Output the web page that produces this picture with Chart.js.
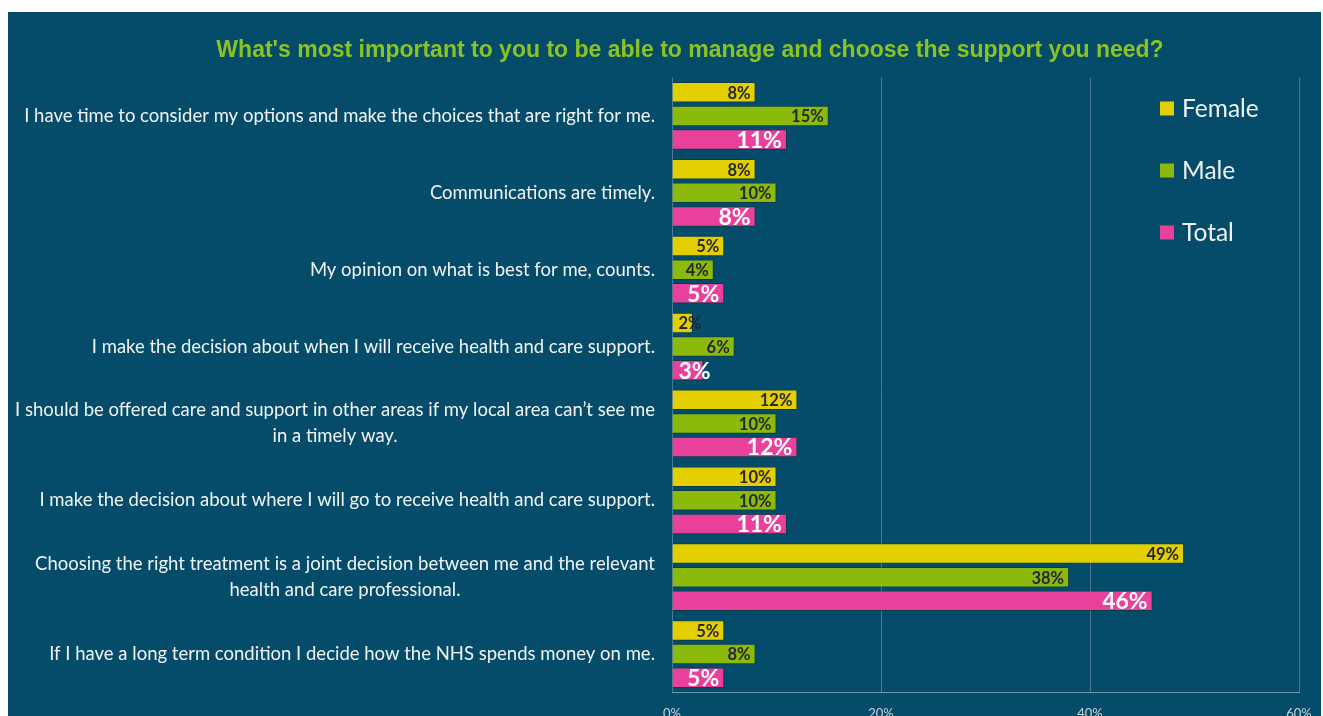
<!DOCTYPE html>
<html>
<head>
<meta charset="utf-8">
<script src="https://cdn.jsdelivr.net/npm/chart.js@4"></script>
<style>
  html, body { margin: 0; padding: 0; background: #ffffff; }
  #panel {
    position: absolute; left: 8px; top: 12px;
    width: 1313px; height: 704px;
    background: #044c69;
  }
</style>
</head>
<body>
<div id="panel"><canvas id="supportChart"></canvas></div>
<script>
const categories = [
  ["I have time to consider my options and make the choices that are right for me."],
  ["Communications are timely."],
  ["My opinion on what is best for me, counts."],
  ["I make the decision about when I will receive health and care support."],
  ["I should be offered care and support in other areas if my local area can\u2019t see me", "in a timely way."],
  ["I make the decision about where I will go to receive health and care support."],
  ["Choosing the right treatment is a joint decision between me and the relevant", "health and care professional."],
  ["If I have a long term condition I decide how the NHS spends money on me."]
];
const female = [8, 8, 5, 2, 12, 10, 49, 5];
const male = [15, 10, 4, 6, 10, 10, 38, 8];
const total = [11, 8, 5, 3, 12, 11, 46, 5];
const xTicks = [0, 20, 40, 60];

const FONT = "Lato, 'Open Sans', sans-serif";

// category labels: right-aligned block, lines centred inside it
const categoryLabels = {
  id: "categoryLabels",
  afterDraw(chart) {
    const { ctx, chartArea, scales } = chart;
    const y = scales.y;
    ctx.save();
    ctx.font = "18.5px " + FONT;
    ctx.fillStyle = "#f2f4f5";
    ctx.textAlign = "center";
    ctx.textBaseline = "middle";
    const right = chartArea.left - 17;
    const lineH = 26;
    chart.data.labels.forEach((lines, i) => {
      const cy = y.getPixelForValue(i);
      const w = Math.max(...lines.map(l => ctx.measureText(l).width));
      const cx = right - w / 2;
      lines.forEach((l, k) => {
        ctx.fillText(l, cx, cy + (k - (lines.length - 1) / 2) * lineH);
      });
    });
    ctx.restore();
  }
};

// value labels at the inner end of each bar
const valueLabels = {
  id: "valueLabels",
  afterDatasetsDraw(chart) {
    const { ctx } = chart;
    ctx.save();
    ctx.textBaseline = "middle";
    ctx.textAlign = "left";
    chart.data.datasets.forEach((ds, di) => {
      const meta = chart.getDatasetMeta(di);
      const big = di === 2;
      ctx.font = (big ? "bold 23px " : "bold 16.5px ") + FONT;
      ctx.fillStyle = big ? "#ffffff" : "#26262e";
      meta.data.forEach((bar, i) => {
        const txt = ds.data[i] + "%";
        const w = ctx.measureText(txt).width;
        const x = Math.max(bar.x - 5 - w, bar.base + 6);
        ctx.fillText(txt, x, bar.y + 1);
      });
    });
    ctx.restore();
  }
};

// legend stacked vertically in the top-right of the plot
const sideLegend = {
  id: "sideLegend",
  afterDraw(chart) {
    const { ctx, chartArea } = chart;
    ctx.save();
    ctx.font = "24.5px " + FONT;
    ctx.textBaseline = "middle";
    ctx.textAlign = "left";
    chart.data.datasets.forEach((ds, i) => {
      const x = chartArea.right - 139;
      const y = chartArea.top + 32 + i * 62;
      ctx.fillStyle = ds.backgroundColor;
      ctx.fillRect(x, y - 8, 14, 14);
      ctx.fillStyle = "#eef2f4";
      ctx.fillText(ds.label, x + 22, y);
    });
    ctx.restore();
  }
};

const barStyle = {
  borderWidth: 1,
  borderColor: "rgba(20,45,40,0.55)",
  categoryPercentage: 0.92,
  barPercentage: 0.87
};

new Chart(document.getElementById("supportChart"), {
  type: "bar",
  data: {
    labels: categories,
    datasets: [
      { label: "Female", data: female, backgroundColor: "#e3cf00", ...barStyle },
      { label: "Male", data: male, backgroundColor: "#8bba0b", ...barStyle },
      { label: "Total", data: total, backgroundColor: "#e8409b", ...barStyle }
    ]
  },
  options: {
    indexAxis: "y",
    responsive: true,
    maintainAspectRatio: false,
    animation: false,
    layout: { padding: { left: 73, right: 22, top: 0, bottom: 0 } },
    plugins: {
      legend: { display: false },
      tooltip: { enabled: false },
      title: {
        display: true,
        text: "What's most important to you to be able to manage and choose the support you need?",
        color: "#8cc322",
        font: { family: "'Liberation Sans', Arial, sans-serif", size: 23, weight: "bold" },
        padding: { top: 25, bottom: 12.9 }
      }
    },
    scales: {
      x: {
        min: 0,
        max: 60,
        afterBuildTicks: (scale) => { scale.ticks = xTicks.map(v => ({ value: v })); },
        afterFit: (scale) => {
          scale.height = 23.5;
          // let the end tick labels overhang instead of shrinking the plot
          scale.paddingLeft = 0;
          scale.paddingRight = 0;
        },
        grid: { color: "#4a7a92", lineWidth: 1, drawTicks: false },
        border: { color: "#6f98ab", width: 1 },
        ticks: {
          color: "#c9d6dc",
          padding: 14,
          font: { family: FONT, size: 13 },
          callback: v => v + "%"
        }
      },
      y: {
        afterFit: (scale) => { scale.width = 591; },
        grid: { display: false },
        border: { display: false },
        ticks: { display: false }
      }
    }
  },
  plugins: [categoryLabels, valueLabels, sideLegend]
});
</script>
</body>
</html>
